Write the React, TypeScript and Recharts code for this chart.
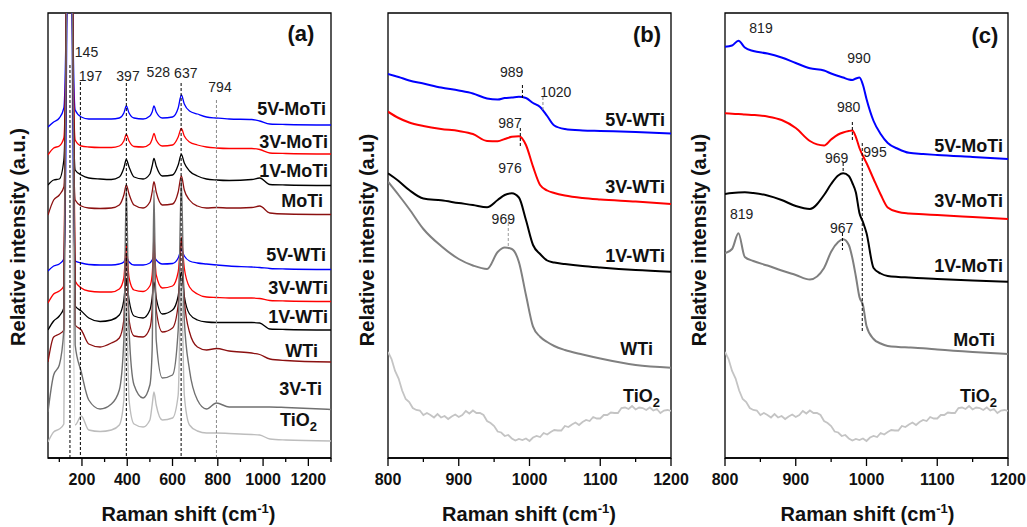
import React from "react";
import { LineChart, Line, XAxis, YAxis, ReferenceLine, ReferenceArea } from "recharts";

// ---- panel (a): full range spectra, offset stacked (a.u.) ----
const shiftA = [50, 75, 100, 120, 137, 145, 153, 170, 197, 230, 280, 330, 365, 385, 396, 408, 430, 470, 500, 510, 518, 528, 555, 600, 625, 639, 652, 675, 710, 750, 794, 850, 950, 985, 1030, 1100, 1300];
const a5VMoTi = [331, 336, 340, 350, 600, 1500, 600, 348, 341, 339, 339, 339, 340, 345, 352, 345, 340, 339, 342, 346, 352, 346, 340, 341, 350, 363, 354, 347, 344, 341, 340, 339, 338.5, 337, 334, 333.5, 333];
const a3VMoTi = [303, 310, 312, 320, 600, 1500, 600, 318, 312, 311, 310.5, 310.5, 312, 317, 323.5, 317, 311.5, 311, 314, 319, 324.5, 318, 312, 313, 321, 329.5, 322, 316, 313, 311, 310, 309.5, 309.5, 308.5, 305, 304.5, 304];
const a1VMoTi = [273, 278, 279, 298, 600, 1500, 600, 288, 283, 280, 279, 278.5, 281, 290, 298.5, 291, 281, 279, 284, 292, 299.5, 292, 282, 283, 293, 303.5, 295, 287, 282, 279, 278, 277.5, 278.5, 280, 273.5, 273, 272.5];
const aMoTi = [243, 258, 263, 271, 600, 1500, 600, 258, 252, 250, 249.5, 250, 253, 263, 273, 264, 253, 250, 256, 266, 276.3, 266, 253, 254, 266, 282, 268, 258, 252, 250, 250.5, 250, 250.5, 252, 245, 244, 243.5];
const a5VWTi = [187, 192, 194, 199, 600, 1500, 600, 197, 195, 193.5, 193, 193, 194, 196, 201, 196, 193, 193, 195, 198, 201, 198, 194, 194.5, 200, 208, 202, 197, 195, 194, 193, 192, 191, 190.5, 189.5, 189, 188.5];
const a3VWTi = [155, 164, 167, 172, 600, 1500, 600, 177, 170, 167, 166, 166, 169, 180, 213, 180, 168, 166.5, 172, 183, 210, 183, 170, 172, 186, 218, 190, 171, 164, 161, 160.5, 160, 160, 159.5, 157.5, 157, 156.5];
const a1VWTi = [128, 137, 142, 150, 600, 1500, 600, 152, 147, 140, 136.5, 138, 143, 158, 178, 158, 142, 140, 148, 160, 176, 160, 144, 148, 162, 186, 162, 144, 138, 136, 135.5, 135.5, 135.5, 135, 129, 128.5, 128];
const aWTi = [96, 121, 124, 128, 600, 1500, 600, 133, 128, 114, 111, 115, 120, 138, 205, 138, 122, 121, 130, 148, 228, 148, 126, 130, 153, 221, 158, 126, 111, 108, 109.5, 107, 105, 103.5, 99, 97.5, 96];
const a3VTi = [46, 83, 93, 128, 600, 1500, 600, 113, 86, 58, 49, 54, 68, 118, 271, 128, 73, 60, 73, 108, 268, 118, 80, 83, 128, 278, 138, 88, 58, 49, 55, 51, 51, 51, 51, 50.5, 48.5];
const aTiO2 = [16, 26, 29, 34, 600, 1500, 600, 33, 42, 28, 26.5, 28, 33, 58, 158, 58, 34, 31, 38, 53, 66, 53, 38, 40, 63, 178, 63, 33, 27, 25, 25, 24.5, 23.5, 23, 19, 18, 17];

// ---- panel (b): W series, 800-1200 ----
const shiftB = [800, 815, 830, 850, 875, 900, 920, 940, 955, 965, 975, 985, 995, 1005, 1015, 1025, 1035, 1050, 1075, 1100, 1150, 1200];
const b5VWTi = [384, 381, 377.5, 374.5, 370.5, 367.5, 364.5, 359.5, 358.5, 360, 360.5, 361.2, 360, 355, 351, 342, 332.5, 329, 327.5, 327, 326, 324.5];
const b3VWTi = [346.3, 340, 335.5, 332, 329, 327, 324, 317, 316.7, 319, 321.2, 321.8, 313, 291.3, 273, 267.5, 265, 262.5, 260, 258.5, 256.5, 254];
const b1VWTi = [284.7, 277, 268, 259.5, 257.7, 255, 253, 250.7, 258, 263, 264.7, 260.5, 238, 213, 204, 197.5, 195.5, 194, 192, 190.5, 188, 186.3];
const bWTi = [276.3, 263, 249, 229, 212, 199, 192.5, 189, 206, 210.5, 209, 196, 163, 131.3, 121.3, 116, 112, 108, 103.5, 99.5, 93, 90.3];

// ---- panel (c): Mo series, 800-1200 ----
const shiftC = [800, 810, 819, 828, 840, 860, 880, 900, 920, 940, 950, 960, 967, 975, 980, 985, 990, 995, 1000, 1010, 1020, 1030, 1045, 1060, 1080, 1100, 1150, 1200];
const c5VMoTi = [411.3, 412.5, 417.3, 410.5, 407, 404.5, 400.5, 395, 389.7, 387.5, 384.5, 382, 380.5, 378.5, 378, 379.5, 380.5, 373, 359, 337, 324, 315, 309, 305.2, 304, 303, 301, 299];
const c3VMoTi = [344.7, 344.2, 344, 343.5, 343, 341.5, 338, 330, 317, 312.5, 318.5, 323.5, 325.5, 327, 327.5, 321, 310, 302, 295, 279, 263.5, 250.5, 246, 244.5, 243.7, 243, 241, 239];
const c1VMoTi = [264, 265, 265.5, 265.7, 265, 262.5, 258, 252, 249, 263, 274, 282.5, 284.7, 282, 275, 265.5, 245, 236, 225, 190, 184.5, 182, 181, 180.5, 179.7, 179, 177.5, 176.3];
const cMoTi = [204.7, 209, 224.7, 201, 197, 192.5, 187.5, 183, 178.5, 190, 206.3, 216, 218.7, 213, 200, 181.5, 161, 153, 132, 119, 114.5, 112, 111, 110.5, 109.7, 108.5, 106, 104];

// TiO2 (noisy) measured every 5 cm-1 from 800 to 1200, used in (b) and (c)
const shiftTiO2 = Array.from({ length: 81 }, (_, i) => 800 + 5 * i);
const hfTiO2 = [
  106, 99, 87, 79.5, 67.5, 59, 56, 50, 48, 47.5,
  43, 45, 43, 40.5, 44, 40.5, 42, 39, 41.5, 43.5,
  41, 43, 47, 44.5, 47.5, 45, 45, 43, 37, 35,
  32, 26.5, 25.5, 22, 23, 19.5, 17.5, 19, 18, 19.5,
  17, 20.5, 22, 21, 25, 23.5, 26, 28, 27.5, 27.5,
  32, 31, 33.5, 35.5, 33, 36, 38, 37, 41, 39.5,
  39.5, 43, 43, 45.5, 45, 45, 50, 50.5, 49, 52,
  48.5, 50.5, 50, 48, 50.5, 47.5, 49, 45, 47.5, 48,
  47,
];

const ticksA = [100, 200, 300, 400, 500, 600, 700, 800, 900, 1000, 1100, 1200, 1300];
const ticksBC = [800, 850, 900, 950, 1000, 1050, 1100, 1150, 1200];

type Pt = { x: number; v: number };
const zip = (xs: number[], vs: number[]): Pt[] => xs.map((x, i) => ({ x, v: vs[i] }));

const FONT = "'Liberation Sans', Arial, Helvetica, sans-serif";
const BLUE = "#0000FF";
const RED = "#FF0000";
const BLACK = "#000000";
const MAROON = "#8B1010";

type Series = { name: string; data: Pt[]; color: string; width: number; type?: "monotone" | "linear" };
type Mark = { x: number; y1: number; y2: number; color: string };

const seriesA: Series[] = [
  { name: "TiO2", data: zip(shiftA, aTiO2), color: "#BDBDBD", width: 1.4 },
  { name: "5V-MoTi", data: zip(shiftA, a5VMoTi), color: BLUE, width: 1.3 },
  { name: "3V-MoTi", data: zip(shiftA, a3VMoTi), color: RED, width: 1.3 },
  { name: "1V-MoTi", data: zip(shiftA, a1VMoTi), color: BLACK, width: 1.3 },
  { name: "MoTi", data: zip(shiftA, aMoTi), color: MAROON, width: 1.3 },
  { name: "5V-WTi", data: zip(shiftA, a5VWTi), color: BLUE, width: 1.3 },
  { name: "3V-WTi", data: zip(shiftA, a3VWTi), color: RED, width: 1.3 },
  { name: "1V-WTi", data: zip(shiftA, a1VWTi), color: BLACK, width: 1.3 },
  { name: "WTi", data: zip(shiftA, aWTi), color: MAROON, width: 1.3 },
  { name: "3V-Ti", data: zip(shiftA, a3VTi), color: "#707070", width: 1.4 },
];

const seriesB: Series[] = [
  { name: "TiO2", data: zip(shiftTiO2, hfTiO2), color: "#C4C4C4", width: 1.8, type: "linear" },
  { name: "WTi", data: zip(shiftB, bWTi), color: "#808080", width: 2 },
  { name: "1V-WTi", data: zip(shiftB, b1VWTi), color: BLACK, width: 2 },
  { name: "3V-WTi", data: zip(shiftB, b3VWTi), color: RED, width: 2 },
  { name: "5V-WTi", data: zip(shiftB, b5VWTi), color: BLUE, width: 2 },
];

const seriesC: Series[] = [
  { name: "TiO2", data: zip(shiftTiO2, hfTiO2), color: "#C4C4C4", width: 1.8, type: "linear" },
  { name: "MoTi", data: zip(shiftC, cMoTi), color: "#7F7F7F", width: 2 },
  { name: "1V-MoTi", data: zip(shiftC, c1VMoTi), color: BLACK, width: 2 },
  { name: "3V-MoTi", data: zip(shiftC, c3VMoTi), color: RED, width: 2 },
  { name: "5V-MoTi", data: zip(shiftC, c5VMoTi), color: BLUE, width: 2 },
];

const marksA: Mark[] = [
  { x: 147, y1: 393, y2: 0, color: "#000" },
  { x: 193, y1: 376, y2: 0, color: "#000" },
  { x: 396, y1: 375, y2: 0, color: "#000" },
  { x: 638, y1: 375, y2: 0, color: "#000" },
  { x: 794, y1: 358, y2: 0, color: "#8A8A8A" },
];
const marksB: Mark[] = [
  { x: 990, y1: 373, y2: 358, color: "#000" },
  { x: 1019, y1: 361, y2: 346, color: "#8A8A8A" },
  { x: 987, y1: 330, y2: 311, color: "#000" },
  { x: 970, y1: 240, y2: 212, color: "#9A9A9A" },
];
const marksC: Mark[] = [
  { x: 980, y1: 336, y2: 318, color: "#000" },
  { x: 967, y1: 295, y2: 285, color: "#000" },
  { x: 994, y1: 315, y2: 125, color: "#000" },
  { x: 966, y1: 225, y2: 208, color: "#000" },
];

function makeTick(labelEvery: number) {
  return (props: any) => {
    const { x, y, payload } = props;
    const major = payload.value % labelEvery === 0;
    const axisY = y - 14;
    return (
      <g>
        <line x1={x} x2={x} y1={axisY} y2={axisY + (major ? 8 : 4)} stroke="#000" strokeWidth={1.3} />
        {major && (
          <text x={x} y={axisY + 27} textAnchor="middle" fontSize={16} fontWeight="bold" fontFamily={FONT} fill="#111">
            {payload.value}
          </text>
        )}
      </g>
    );
  };
}

function Panel(props: {
  left: number; width: number; ml: number; mr: number;
  domain: [number, number]; ticks: number[]; labelEvery: number;
  series: Series[]; marks: Mark[];
}) {
  const { left, width, ml, mr, domain, ticks, labelEvery, series, marks } = props;
  return (
    <div style={{ position: "absolute", left, top: 0 }}>
      <LineChart width={width} height={527} margin={{ top: 13, right: mr, bottom: 0, left: ml }}>
        <XAxis type="number" dataKey="x" domain={domain} ticks={ticks} interval={0} allowDataOverflow
          height={69} tickSize={8} tickMargin={6} tickLine={false} tick={makeTick(labelEvery)}
          axisLine={{ stroke: "#000", strokeWidth: 1.3 }} />
        <YAxis type="number" domain={[0, 445]} allowDataOverflow width={0} tick={false} tickLine={false}
          axisLine={{ stroke: "#000", strokeWidth: 1.3 }} />
        <ReferenceArea x1={domain[0]} x2={domain[1]} y1={0} y2={445} fill="none" stroke="#000" strokeWidth={1.3} />
        {series.map((s) => (
          <Line key={s.name} data={s.data} dataKey="v" type={s.type ?? "monotone"} stroke={s.color}
            strokeWidth={s.width} dot={false} activeDot={false} isAnimationActive={false} />
        ))}
        {marks.map((m, i) => (
          <ReferenceLine key={i} segment={[{ x: m.x, y: m.y1 }, { x: m.x, y: m.y2 }]}
            stroke={m.color} strokeWidth={1} strokeDasharray="3 2" />
        ))}
      </LineChart>
    </div>
  );
}

const peakStyle = { fontSize: 14, fill: "#222", fontFamily: FONT, textAnchor: "middle" as const };
const nameStyle = { fontSize: 18, fontWeight: "bold" as const, fill: "#111", fontFamily: FONT, textAnchor: "end" as const };
const titleStyle = { fontSize: 20, fontWeight: "bold" as const, fill: "#111", fontFamily: FONT, textAnchor: "middle" as const };

function TiO2Label({ x, y }: { x: number; y: number }) {
  return (
    <text x={x} y={y} {...nameStyle}>
      TiO<tspan dy={5} fontSize={13}>2</tspan>
    </text>
  );
}

function XTitle({ x }: { x: number }) {
  return (
    <text x={x} y={521} {...titleStyle}>
      Raman shift (cm<tspan dy={-8} fontSize={13}>-1</tspan><tspan dy={8}>)</tspan>
    </text>
  );
}

function YTitle({ x, y, text }: { x: number; y: number; text: string }) {
  return (
    <text transform={`translate(${x},${y}) rotate(-90)`} dominantBaseline="central" {...titleStyle}>
      {text}
    </text>
  );
}

export default function App() {
  return (
    <div style={{ position: "absolute", left: 0, top: 0, width: 1027, height: 527, background: "#fff", overflow: "hidden" }}>
      <Panel left={0} width={340} ml={48} mr={9} domain={[50, 1300]} ticks={ticksA} labelEvery={200} series={seriesA} marks={marksA} />
      <Panel left={350} width={345} ml={38} mr={24} domain={[800, 1200]} ticks={ticksBC} labelEvery={100} series={seriesB} marks={marksB} />
      <Panel left={690} width={337} ml={35} mr={19} domain={[800, 1200]} ticks={ticksBC} labelEvery={100} series={seriesC} marks={marksC} />

      <svg width={1027} height={527} style={{ position: "absolute", left: 0, top: 0, pointerEvents: "none" }}>
        {/* panel (a) */}
        <text x={301} y={41} fontSize={22} fontWeight="bold" fontFamily={FONT} textAnchor="middle" fill="#111">(a)</text>
        <text x={86.5} y={57} {...peakStyle}>145</text>
        <text x={90.5} y={81} {...peakStyle}>197</text>
        <text x={128} y={81} {...peakStyle}>397</text>
        <text x={158.3} y={77} {...peakStyle}>528</text>
        <text x={185.8} y={78} {...peakStyle}>637</text>
        <text x={220} y={92} {...peakStyle}>794</text>
        <text x={326} y={115} {...nameStyle}>5V-MoTi</text>
        <text x={328} y={148} {...nameStyle}>3V-MoTi</text>
        <text x={328} y={177} {...nameStyle}>1V-MoTi</text>
        <text x={323} y={207} {...nameStyle}>MoTi</text>
        <text x={326} y={261} {...nameStyle}>5V-WTi</text>
        <text x={328} y={294} {...nameStyle}>3V-WTi</text>
        <text x={328} y={323} {...nameStyle}>1V-WTi</text>
        <text x={318} y={357} {...nameStyle}>WTi</text>
        <text x={322} y={395} {...nameStyle}>3V-Ti</text>
        <TiO2Label x={317} y={426} />
        <YTitle x={18} y={237} text="Relative intensity (a.u.)" />
        <XTitle x={188.5} />

        {/* panel (b) */}
        <text x={647} y={42} fontSize={22} fontWeight="bold" fontFamily={FONT} textAnchor="middle" fill="#111">(b)</text>
        <text x={511.7} y={77} {...peakStyle}>989</text>
        <text x={555.8} y={97} {...peakStyle}>1020</text>
        <text x={510} y={128} {...peakStyle}>987</text>
        <text x={510} y={173} {...peakStyle}>976</text>
        <text x={503.3} y={224} {...peakStyle}>969</text>
        <text x={665} y={126} {...nameStyle}>5V-WTi</text>
        <text x={665} y={193} {...nameStyle}>3V-WTi</text>
        <text x={665} y={262} {...nameStyle}>1V-WTi</text>
        <text x={653} y={355} {...nameStyle}>WTi</text>
        <TiO2Label x={660} y={402} />
        <YTitle x={367} y={240} text="Relative intensity (a.u)" />
        <XTitle x={529} />

        {/* panel (c) */}
        <text x={985} y={43} fontSize={22} fontWeight="bold" fontFamily={FONT} textAnchor="middle" fill="#111">(c)</text>
        <text x={761} y={33} {...peakStyle}>819</text>
        <text x={859} y={63} {...peakStyle}>990</text>
        <text x={848.7} y={112} {...peakStyle}>980</text>
        <text x={875} y={157} {...peakStyle}>995</text>
        <text x={836.7} y={163} {...peakStyle}>969</text>
        <text x={741.7} y={219} {...peakStyle}>819</text>
        <text x={841.7} y={233} {...peakStyle}>967</text>
        <text x={1003} y={152} {...nameStyle}>5V-MoTi</text>
        <text x={1003} y={207} {...nameStyle}>3V-MoTi</text>
        <text x={1003} y={272} {...nameStyle}>1V-MoTi</text>
        <text x={995} y={346} {...nameStyle}>MoTi</text>
        <TiO2Label x={997} y={402} />
        <YTitle x={699} y={240} text="Relative intensity (a.u)" />
        <XTitle x={867.5} />
      </svg>
    </div>
  );
}
